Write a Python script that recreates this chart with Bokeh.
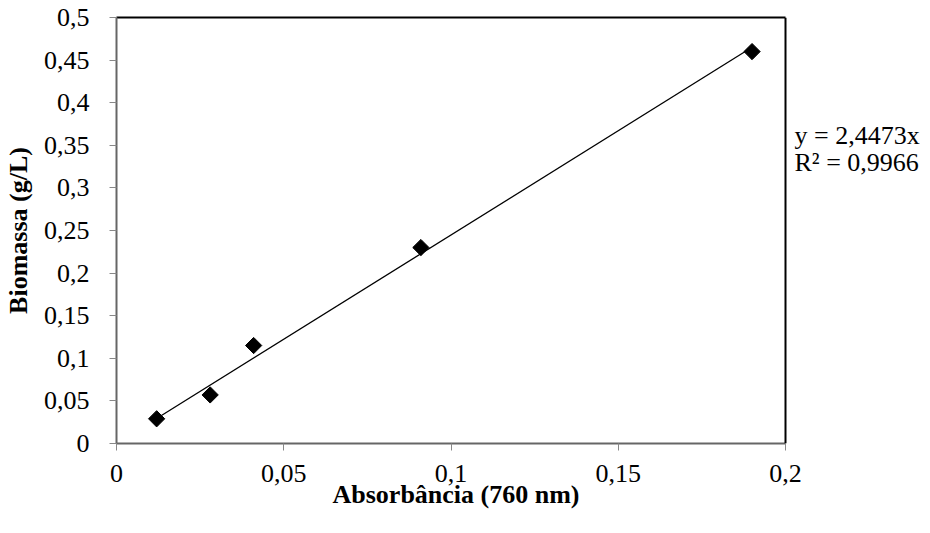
import math
from bokeh.plotting import figure
from bokeh.models import FixedTicker, Range1d, Label, LinearAxis, Span, Title
from bokeh.embed import file_html
from bokeh.resources import INLINE

# data
absorbance = [0.012, 0.028, 0.041, 0.091, 0.19]
biomass = [0.029, 0.057, 0.115, 0.23, 0.46]
trend_x = [0.012, 0.19]
trend_y = [0.0294, 0.4650]
x_ticks = [0, 0.05, 0.1, 0.15, 0.2]
x_tick_labels = ["0", "0,05", "0,1", "0,15", "0,2"]
y_ticks = [0, 0.05, 0.1, 0.15, 0.2, 0.25, 0.3, 0.35, 0.4, 0.45, 0.5]
y_tick_labels = ["0", "0,05", "0,1", "0,15", "0,2", "0,25", "0,3", "0,35", "0,4", "0,45", "0,5"]
eq_lines = ["y = 2,4473x", "R² = 0,9966"]
x_title = "Absorbância (760 nm)"
y_title = "Biomassa (g/L)"

FONT = "Liberation Serif"
X_MIN, X_MAX = x_ticks[0], x_ticks[-1]
Y_MIN, Y_MAX = y_ticks[0], y_ticks[-1]

# frame: left 116, box right edge 785, canvas right 929
LEFT, BOX_RIGHT, RIGHT = 116, 785, 929
x_end = X_MIN + (X_MAX - X_MIN) * (RIGHT - LEFT) / (BOX_RIGHT - LEFT)

p = figure(width=930, height=533, output_backend="svg", toolbar_location=None,
           x_range=Range1d(X_MIN, x_end), y_range=Range1d(Y_MIN, Y_MAX),
           x_axis_location=None,
           min_border_left=LEFT, min_border_right=930 - RIGHT, min_border_top=17, min_border_bottom=90)
p.xgrid.visible = False
p.ygrid.visible = False
p.outline_line_color = None

xax = LinearAxis(bounds=(X_MIN, X_MAX))
p.add_layout(xax, "below")
top = LinearAxis(bounds=(X_MIN, X_MAX), ticker=FixedTicker(ticks=[]),
                 major_tick_line_color=None, minor_tick_line_color=None,
                 axis_line_color="black", axis_line_width=2)
p.add_layout(top, "above")
p.add_layout(Span(location=X_MAX, dimension="height", line_color="black", line_width=2))

for ax, ticks, labels in [(xax, x_ticks, x_tick_labels), (p.yaxis[0], y_ticks, y_tick_labels)]:
    ax.ticker = FixedTicker(ticks=ticks)
    ax.major_label_overrides = {t: l for t, l in zip(ticks, labels)}
    ax.minor_tick_line_color = None
    ax.major_tick_in = 0
    ax.major_tick_out = 7
    ax.major_tick_line_color = "#888888"
    ax.axis_line_color = "#666666"
    ax.axis_line_width = 2
    ax.major_label_text_font = FONT
    ax.major_label_text_font_size = "26px"
    ax.major_label_text_color = "black"
    ax.axis_label_text_font = FONT
    ax.axis_label_text_font_size = "26px"
    ax.axis_label_text_font_style = "bold"
    ax.axis_label_text_color = "black"

p.yaxis.axis_label = y_title
xax.major_label_standoff = 14
p.yaxis.major_label_standoff = 20
p.yaxis.axis_label_standoff = 8

p.add_layout(Title(text=x_title, align="left", offset=216, standoff=-13,
                   text_font=FONT, text_font_size="26px", text_font_style="bold",
                   text_color="black"), "below")

p.line(trend_x, trend_y, line_color="black", line_width=1.3)
p.scatter(absorbance, biomass, marker="square", angle=math.pi / 4, size=11.5,
          fill_color="black", line_color="black")

for i, t in enumerate(eq_lines):
    p.add_layout(Label(x=794 - LEFT, y=443 - 135 - i * 27, x_units="screen", y_units="screen",
                       text=t, text_font=FONT, text_font_size="26px", text_color="black",
                       text_baseline="middle", text_align="left"))

open("out.html", "w").write(file_html(p, INLINE))
